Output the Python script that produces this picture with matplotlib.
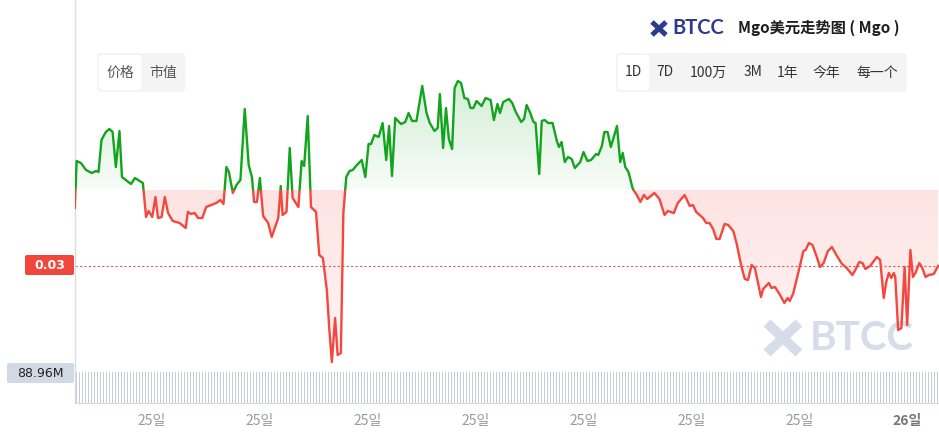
import numpy as np
import matplotlib
matplotlib.use("Agg")
import matplotlib.pyplot as plt
from matplotlib.patches import Polygon, Rectangle, FancyBboxPatch

plt.rcParams['font.family'] = ['Noto Sans CJK SC', 'DejaVu Sans']

# ---------------- data ----------------
hours = [0.88,0.93,1.05,1.19,1.35,1.47,1.54,1.62,1.74,1.84,
         1.93,2.02,2.12,2.19,2.44,2.55,2.77,2.86,2.93,3.03,
         3.12,3.19,3.29,3.38,3.47,3.60,3.79,3.96,4.02,4.11,
         4.21,4.30,4.42,4.53,4.67,4.81,4.92,5.01,5.09,5.16,
         5.27,5.37,5.48,5.60,5.71,5.80,5.86,5.94,6.02,6.11,
         6.25,6.35,6.53,6.60,6.65,6.76,6.85,6.93,7.09,7.18,
         7.25,7.35,7.44,7.58,7.67,7.77,7.88,7.95,8.02,8.11,
         8.18,8.27,8.34,8.42,8.51,8.60,8.69,8.85,8.95,9.04,
         9.11,9.20,9.32,9.43,9.53,9.61,9.69,9.78,9.94,10.06,
         10.15,10.25,10.37,10.53,10.65,10.74,10.87,10.96,11.02,11.11,
         11.19,11.27,11.36,11.43,11.52,11.61,11.70,11.80,11.87,11.95,
         12.04,12.18,12.29,12.43,12.52,12.62,12.69,12.78,12.94,13.03,
         13.13,13.28,13.36,13.43,13.52,13.62,13.68,13.78,13.85,13.93,
         14.03,14.15,14.27,14.33,14.40,14.49,14.58,14.68,14.77,14.92,
         15.01,15.12,15.22,15.36,15.42,15.52,15.59,15.68,15.77,15.94,
         16.03,16.10,16.17,16.26,16.38,16.49,16.59,16.69,16.78,16.98,
         17.12,17.26,17.35,17.52,17.63,17.82,17.96,18.05,18.14,18.33,
         18.42,18.51,18.61,18.70,18.79,18.93,19.03,19.17,19.26,19.40,
         19.49,19.58,19.68,19.77,19.94,20.00,20.16,20.23,20.33,20.47,
         20.59,20.68,20.74,20.84,20.98,21.12,21.18,21.27,21.37,21.49,
         21.58,21.68,21.80,21.91,22.05,22.19,22.32,22.48,22.56,22.67,
         22.76,22.84,22.97,23.16,23.25,23.35,23.42,23.49,23.56,23.63,
         23.67,23.75,23.84,23.93,24.00,24.09,24.16,24.23,24.34,24.42,
         24.51,24.60,24.74,24.86]

prices = [0.03057,0.03104,0.03102,0.03095,0.03092,0.03094,0.03093,0.03125,0.03133,0.03136,
          0.03133,0.03098,0.03134,0.03088,0.03081,0.03087,0.03082,0.03048,0.03054,0.03048,
          0.03068,0.03047,0.03048,0.03068,0.03052,0.03044,0.03042,0.03037,0.03053,0.03051,
          0.03052,0.03047,0.03047,0.03058,0.03060,0.03062,0.03065,0.03061,0.03098,0.03093,
          0.03072,0.03080,0.03085,0.03156,0.03100,0.03088,0.03063,0.03063,0.03087,0.03049,
          0.03042,0.03028,0.03047,0.03079,0.03050,0.03053,0.03117,0.03067,0.03058,0.03104,
          0.03099,0.03149,0.03058,0.03053,0.03010,0.03007,0.02975,0.02935,0.02903,0.02947,
          0.02910,0.02912,0.03052,0.03088,0.03094,0.03095,0.03099,0.03105,0.03088,0.03121,
          0.03121,0.03130,0.03128,0.03142,0.03105,0.03139,0.03089,0.03147,0.03141,0.03143,
          0.03152,0.03144,0.03144,0.03179,0.03152,0.03142,0.03134,0.03137,0.03171,0.03117,
          0.03157,0.03126,0.03116,0.03177,0.03184,0.03182,0.03167,0.03166,0.03157,0.03157,
          0.03164,0.03159,0.03167,0.03165,0.03145,0.03161,0.03152,0.03163,0.03166,0.03162,
          0.03153,0.03143,0.03146,0.03160,0.03153,0.03143,0.03142,0.03091,0.03144,0.03145,
          0.03142,0.03142,0.03124,0.03118,0.03123,0.03103,0.03108,0.03106,0.03097,0.03103,
          0.03113,0.03104,0.03105,0.03111,0.03110,0.03119,0.03133,0.03133,0.03118,0.03139,
          0.03103,0.03112,0.03098,0.03093,0.03076,0.03070,0.03063,0.03070,0.03066,0.03072,
          0.03066,0.03050,0.03054,0.03052,0.03062,0.03070,0.03059,0.03060,0.03053,0.03047,
          0.03042,0.03042,0.03036,0.03026,0.03026,0.03041,0.03040,0.03034,0.03022,0.02998,
          0.02986,0.02985,0.03000,0.02997,0.02968,0.02976,0.02982,0.02977,0.02978,0.02970,
          0.02962,0.02967,0.02964,0.02972,0.02993,0.03014,0.03015,0.03022,0.03020,0.03008,
          0.02998,0.03002,0.03014,0.03018,0.03009,0.03001,0.02997,0.02990,0.02995,0.03003,
          0.03002,0.02996,0.02999,0.03008,0.03005,0.02967,0.02983,0.02992,0.02987,0.02992,
          0.02988,0.02935,0.02937,0.02998,0.02940,0.03015,0.02988,0.02992,0.03002,0.02997,
          0.02988,0.02990,0.02991,0.02999]

open_price = 0.03075          # 24h reference price (green / red split)
volume_millions = [88.96] * 288   # every 5-minute volume bar reads at the same level
volume_label = "88.96M"
tick_hours = [3, 6, 9, 12, 15, 18, 21, 24]
tick_labels = ["25일", "25일", "25일", "25일", "25일", "25일", "25일", "26일"]
title_text = "Mgo美元走势图 ( Mgo )"
range_buttons = ["1D", "7D", "100万", "3M", "1年", "今年", "每一个"]
mode_buttons = ["价格", "市值"]

assert len(hours) == len(prices)

# ---------------- figure ----------------
W, H = 939, 438
fig = plt.figure(figsize=(W / 100, H / 100), dpi=100)
fig.patch.set_facecolor('white')

X0, X1 = 0.885, 24.885        # 24 h window
Y0, Y1 = 0.02862, 0.03265

GREEN = '#13A41F'
RED = '#F4473E'

# background axes (watermark)
bg = fig.add_axes([0, 0, 1, 1], zorder=0)
bg.set_xlim(0, W); bg.set_ylim(H, 0); bg.axis('off')
bg.text(810, 338, "BTCC", fontsize=29, fontweight='bold', family='Lato',
        color='#D6DCE9', va='center', ha='left')
bg.plot([767, 799], [323, 353], color='#D6DCE9', lw=7, solid_capstyle='butt')
bg.plot([799, 767], [323, 353], color='#D6DCE9', lw=7, solid_capstyle='butt')

# main price axes
ax = fig.add_axes([75 / W, 35 / H, (W - 75) / W, 403 / H], zorder=1)
ax.patch.set_alpha(0)
ax.set_xlim(X0, X1)
ax.set_ylim(Y0, Y1)
ax.set_xticks([]); ax.set_yticks([])
for s in ['top', 'right', 'bottom']:
    ax.spines[s].set_visible(False)
ax.spines['left'].set_color('#DCDCDC')
ax.spines['left'].set_linewidth(1)

t = np.array(hours)
p = np.array(prices)

# clip polygon between line and reference
verts = [(t[0], open_price)] + list(zip(t, p)) + [(t[-1], open_price)]
clip_poly = Polygon(verts, closed=True, facecolor='none', edgecolor='none')
ax.add_patch(clip_poly)

g = np.zeros((256, 1, 4))
g[:, 0, 0] = 0.07; g[:, 0, 1] = 0.64; g[:, 0, 2] = 0.12
g[:, 0, 3] = np.linspace(0.03, 0.19, 256)
im_g = ax.imshow(g, extent=[X0, X1, open_price, p.max()], origin='lower',
                 aspect='auto', interpolation='bilinear', zorder=1)
im_g.set_clip_path(clip_poly)

r = np.zeros((256, 1, 4))
r[:, 0, 0] = 0.96; r[:, 0, 1] = 0.28; r[:, 0, 2] = 0.24
r[:, 0, 3] = np.linspace(0.05, 0.15, 256)
im_r = ax.imshow(r, extent=[X0, X1, p.min(), open_price], origin='lower',
                 aspect='auto', interpolation='bilinear', zorder=1)
im_r.set_clip_path(clip_poly)
ax.set_xlim(X0, X1); ax.set_ylim(Y0, Y1)

up_rect = Rectangle((X0, open_price), X1 - X0, 1, transform=ax.transData)
dn_rect = Rectangle((X0, open_price - 1), X1 - X0, 1, transform=ax.transData)
lg, = ax.plot(t, p, color=GREEN, lw=1.7, zorder=3, solid_joinstyle='round')
lg.set_clip_path(up_rect)
lr, = ax.plot(t, p, color=RED, lw=1.7, zorder=3, solid_joinstyle='round')
lr.set_clip_path(dn_rect)

last = prices[-1]
ax.axhline(last, color='#DA5870', lw=0.8, ls=(0, (2, 2)), zorder=2)

# volume axes
vax = fig.add_axes([75 / W, 35 / H, (W - 75) / W, 31 / H], zorder=1)
vax.patch.set_alpha(0)
step = 5 / 60
vol_t = X0 + (np.arange(len(volume_millions)) + 0.5) * step
vax.bar(vol_t, volume_millions, width=step / 3, color='#C6CBD7', edgecolor='none',
        linewidth=0, antialiased=False)
vax.set_xlim(X0, X1)
vax.set_ylim(0, 89.5)
vax.set_yticks([])
for s in ['top', 'right', 'left']:
    vax.spines[s].set_visible(False)
vax.spines['bottom'].set_color('#D5D9E0')
vax.set_xticks(tick_hours)
vax.set_xticklabels(tick_labels)
vax.tick_params(axis='x', length=0, pad=8, labelsize=10, labelcolor='#9A9A9A')
for lab in vax.get_xticklabels():
    lab.set_family(['Noto Sans CJK KR', 'DejaVu Sans'])
vax.get_xticklabels()[-1].set_fontweight('bold')
vax.get_xticklabels()[-1].set_color('#777777')

# overlay axes (UI)
ov = fig.add_axes([0, 0, 1, 1], zorder=3)
ov.set_xlim(0, W); ov.set_ylim(H, 0); ov.axis('off')
ov.patch.set_alpha(0)

# price label
ov.add_patch(FancyBboxPatch((25, 255), 49, 20, boxstyle='round,pad=0,rounding_size=2',
                            fc='#F0463C', ec='none'))
ov.text(49.5, 265.5, f"{last:.2f}", color='white', fontsize=9, fontweight='bold',
        family='DejaVu Sans', ha='center', va='center')
# volume label
ov.add_patch(FancyBboxPatch((7, 363), 67, 20, boxstyle='round,pad=0,rounding_size=2',
                            fc='#D1D9E4', ec='none'))
ov.text(40.5, 373.5, volume_label, color='#222222', fontsize=9,
        family='DejaVu Sans', ha='center', va='center')

# header
ov.plot([652, 666], [22, 35], color='#2D3B8E', lw=3.6, solid_capstyle='butt')
ov.plot([666, 652], [22, 35], color='#2D3B8E', lw=3.6, solid_capstyle='butt')
ov.text(672, 28.5, "BTCC", fontsize=14.5, fontweight='bold', family='Lato',
        color='#2D3B8E', ha='left', va='center')
ov.text(738, 28, title_text, fontsize=11, fontweight='bold', color='#1E1E1E',
        ha='left', va='center')

# range buttons
ov.add_patch(FancyBboxPatch((616, 53), 291, 39, boxstyle='round,pad=0,rounding_size=4',
                            fc='#F4F4F5', ec='none'))
ov.add_patch(FancyBboxPatch((618, 55), 31, 35, boxstyle='round,pad=0,rounding_size=3',
                            fc='white', ec='none'))
btn_x = [633, 665, 708, 753, 788, 826, 877]
for bx, lab in zip(btn_x, range_buttons):
    ov.text(bx, 72.5, lab, fontsize=10, color='#333333', ha='center', va='center')

# mode buttons
ov.add_patch(FancyBboxPatch((97, 53), 88, 39, boxstyle='round,pad=0,rounding_size=4',
                            fc='#F4F4F5', ec='none'))
ov.add_patch(FancyBboxPatch((99, 55), 42, 35, boxstyle='round,pad=0,rounding_size=3',
                            fc='white', ec='none'))
for bx, lab in zip([120, 163], mode_buttons):
    ov.text(bx, 72.5, lab, fontsize=10, color='#555555', ha='center', va='center')

fig.savefig('out.png', dpi=100)
